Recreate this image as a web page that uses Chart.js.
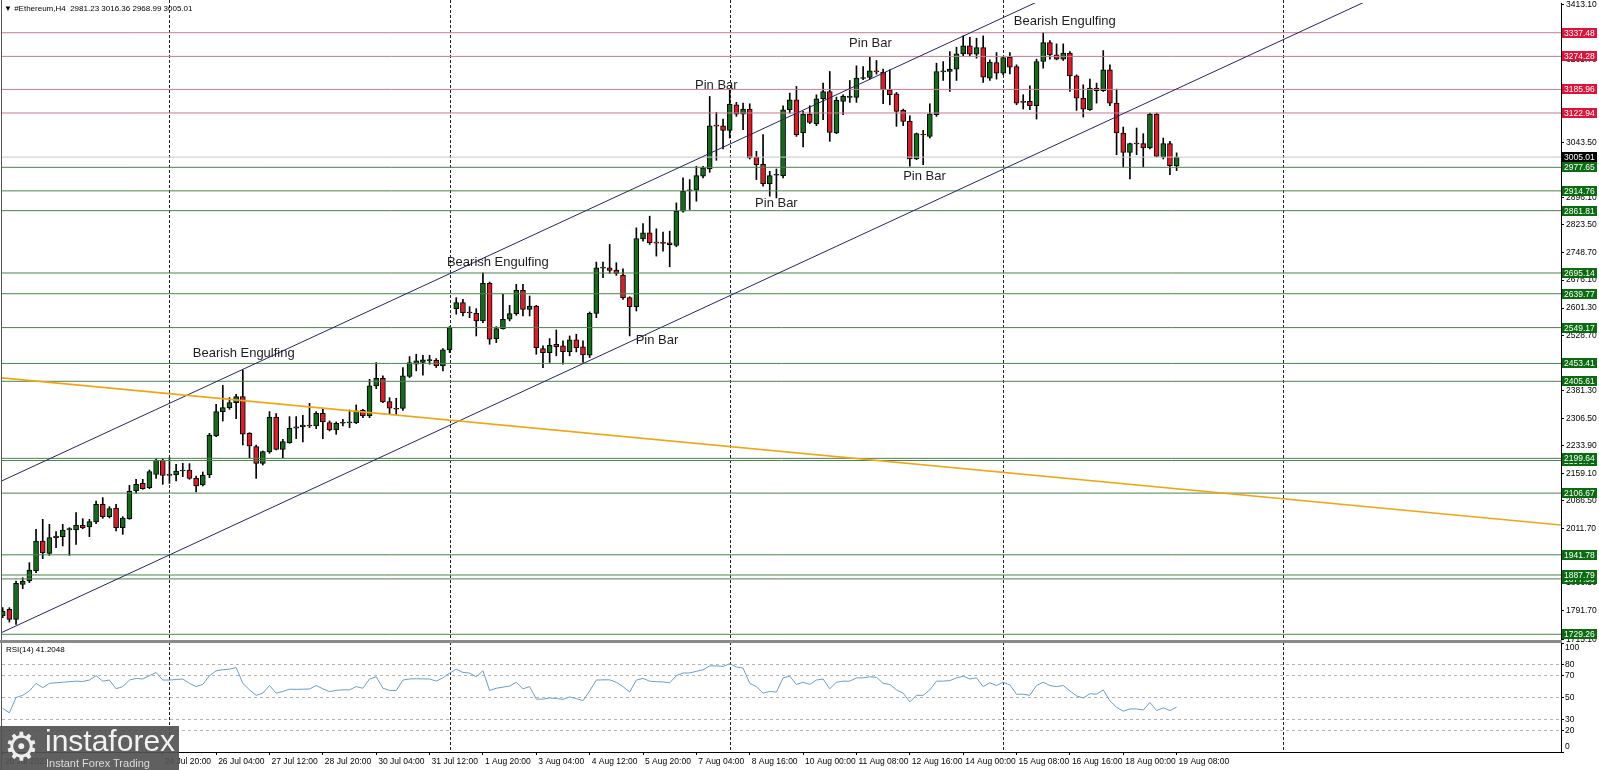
<!DOCTYPE html>
<html><head><meta charset="utf-8">
<script src="https://cdn.jsdelivr.net/npm/chart.js@4.4.1/dist/chart.umd.min.js"></script>
<style>
html,body{margin:0;padding:0;background:#fff;overflow:hidden;}
#wrap{position:relative;width:1599px;height:770px;background:#fff;}
#c1,#c2{position:absolute;left:0;}
#c1{top:0;} #c2{top:642px;}
#hdr{position:absolute;left:4px;top:4px;font:8px 'Liberation Sans',sans-serif;line-height:9px;color:#000;white-space:pre;}
#rsiLbl{position:absolute;left:6px;top:645px;font:8px 'Liberation Sans',sans-serif;line-height:10px;color:#000;white-space:pre;}
#sep{position:absolute;left:0;top:640px;width:1562px;height:3px;background:#8a8a8a;}
#logo{position:absolute;left:0;top:726px;width:179px;height:44px;background:rgba(82,82,82,0.92);overflow:hidden;}
#gear{position:absolute;left:4px;top:1px;font:39px 'DejaVu Sans',sans-serif;line-height:40px;color:#efefef;}
#brand{position:absolute;left:45px;top:1px;font:30px 'Liberation Sans',sans-serif;line-height:28px;color:#f2f2f2;}
#tag{position:absolute;left:46px;top:31px;font:11px 'Liberation Sans',sans-serif;line-height:12px;color:#dcdcdc;white-space:pre;}
</style></head>
<body>
<div id="wrap">
<canvas id="c1" width="1599" height="642"></canvas>
<canvas id="c2" width="1599" height="128"></canvas>
<div id="sep"></div>
<div id="hdr">▼ #Ethereum,H4  2981.23 3016.36 2968.99 3005.01</div>
<div id="rsiLbl">RSI(14) 41.2048</div>
<div id="logo"><span id="gear">⚙</span><span id="brand">instaforex</span><span id="tag">Instant Forex Trading</span></div>
</div>
<script>
// ---------------- DATA ----------------
const opens = [1778.1,1795.9,1769.2,1862.8,1871.7,1898.4,1978.7,1945.7,1987.6,1990.3,
2008.1,2008.1,2020.6,2016.1,2029.5,2076.7,2043.8,2066.9,2014.3,2038.4,
2112.4,2132.9,2121.3,2157.0,2195.3,2157.0,2155.2,2165.9,2168.6,2146.3,
2128.4,2155.2,2259.5,2324.6,2335.3,2348.6,2364.7,2266.6,2231.0,2186.4,
2216.7,2310.3,2223.8,2241.7,2280.0,2283.6,2288.9,2286.2,2320.1,2295.2,
2275.5,2293.4,2294.3,2295.2,2328.1,2313.0,2393.2,2413.7,2351.3,2333.5,
2333.0,2418.4,2451.3,2455.8,2461.1,2462.0,2446.9,2489.6,2599.8,2615.8,
2590.0,2587.4,2566.9,2667.4,2519.8,2546.5,2571.4,2586.5,2648.8,2598.0,
2606.9,2493.1,2482.4,2504.7,2500.2,2485.1,2516.2,2497.6,2475.3,2587.4,
2708.3,2709.2,2703.0,2689.7,2629.2,2605.2,2786.6,2802.6,2776.8,2776.0,
2776.0,2768.8,2860.4,2914.6,2916.4,2953.8,2973.3,3089.8,3088.9,3076.5,
3145.0,3120.1,3133.4,3005.4,2985.8,2934.2,2956.4,2955.5,3131.6,3158.3,
3069.4,3120.1,3093.4,3161.0,3180.5,3069.4,3153.9,3164.5,3164.5,3215.2,
3217.9,3234.8,3232.1,3185.0,3174.3,3129.9,3100.5,3000.0,3065.8,3060.5,
3118.3,3233.0,3233.9,3240.1,3281.0,3302.4,3280.1,3297.9,3216.1,3257.9,
3229.5,3272.1,3247.2,3153.0,3153.9,3142.3,3260.6,3311.3,3278.4,3266.8,
3282.8,3222.3,3162.8,3131.6,3189.4,3182.3,3238.4,3149.4,3069.4,3017.8,
3041.8,3040.9,3029.4,3120.1,3004.5,3040.9,2981.23];
const highs = [1800.4,1800.4,1871.7,1880.6,1920.7,2009.9,2036.6,2023.2,2003.6,2023.2,
2014.3,2054.4,2038.4,2036.6,2085.7,2094.6,2070.5,2076.7,2043.8,2127.6,
2143.6,2143.6,2168.6,2198.9,2198.9,2201.5,2183.7,2186.4,2185.5,2152.5,
2163.2,2266.6,2344.2,2395.0,2362.0,2370.9,2436.0,2268.4,2235.4,2219.4,
2324.6,2319.2,2250.6,2311.2,2311.2,2314.8,2346.9,2324.6,2330.8,2299.6,
2297.0,2304.1,2329.0,2342.4,2330.8,2411.0,2455.6,2420.0,2362.0,2360.2,
2442.4,2471.8,2478.0,2475.3,2475.3,2466.4,2493.1,2551.8,2629.2,2624.7,
2605.2,2599.8,2695.9,2671.0,2551.8,2638.1,2608.7,2664.8,2664.8,2633.6,
2608.7,2500.2,2519.8,2542.9,2513.6,2526.9,2531.4,2513.6,2590.9,2724.3,
2724.3,2771.5,2722.6,2706.5,2631.8,2815.9,2827.5,2847.1,2813.3,2804.4,
2807.0,2882.6,2949.3,2944.9,2980.5,2980.5,3167.2,3124.5,3106.7,3185.0,
3151.2,3149.4,3147.6,3020.5,3064.9,2967.1,2973.3,3142.3,3176.1,3193.9,
3127.2,3142.3,3171.7,3202.8,3233.9,3165.4,3171.7,3209.9,3249.0,3247.3,
3272.1,3263.3,3240.1,3238.4,3177.9,3133.4,3115.6,3069.4,3076.5,3147.6,
3256.2,3260.6,3287.3,3298.8,3329.1,3325.5,3322.8,3329.1,3265.0,3284.6,
3273.9,3284.6,3251.7,3171.7,3195.7,3266.8,3338.0,3316.6,3307.7,3307.7,
3287.3,3225.0,3198.3,3213.5,3202.8,3289.9,3251.7,3186.8,3085.4,3042.7,
3082.7,3067.6,3122.8,3122.8,3056.0,3047.2,3016.36];
const lows = [1773.6,1762.0,1755.8,1851.2,1867.2,1894.0,1931.4,1940.3,1960.8,1965.3,
1940.3,1969.8,2011.7,1990.3,2025.0,2039.3,2040.2,2005.4,1996.5,2036.6,
2106.2,2116.9,2118.6,2146.3,2130.2,2132.9,2139.1,2150.7,2143.6,2109.7,
2125.8,2148.1,2257.7,2299.6,2330.8,2305.9,2235.4,2201.5,2146.3,2181.9,
2213.1,2222.1,2201.5,2239.9,2252.4,2243.4,2281.8,2279.1,2252.4,2272.9,
2264.0,2286.2,2281.8,2292.5,2308.5,2308.5,2386.1,2348.6,2317.4,2317.4,
2328.0,2415.7,2433.5,2422.0,2451.3,2442.4,2433.5,2482.4,2585.0,2580.3,
2575.8,2526.9,2562.5,2504.7,2509.1,2544.7,2566.9,2582.0,2580.3,2580.3,
2478.0,2442.4,2455.8,2473.6,2451.3,2473.6,2484.2,2455.8,2469.1,2575.8,
2682.6,2694.1,2688.8,2624.7,2526.9,2593.6,2780.4,2771.5,2740.3,2753.7,
2711.9,2765.3,2857.7,2864.9,2887.1,2949.3,2964.4,2996.5,3026.7,3056.0,
3113.9,3078.3,3000.0,2944.9,2927.1,2900.4,2896.0,2949.3,3122.7,3060.5,
3032.0,3094.3,3089.0,3104.9,3047.2,3067.6,3118.3,3151.2,3151.2,3211.7,
3213.5,3226.8,3147.6,3145.0,3087.2,3089.0,2980.5,2998.2,2984.9,3056.0,
3113.8,3209.9,3180.5,3209.9,3275.7,3275.7,3269.5,3204.6,3209.9,3213.5,
3225.0,3227.7,3145.0,3133.4,3131.6,3106.7,3242.8,3266.8,3265.0,3263.3,
3180.5,3129.9,3112.1,3129.9,3149.4,3180.5,3142.3,3011.6,2978.7,2946.7,
3011.6,2978.7,3026.7,3005.4,3000.0,2958.2,2968.99];
const closes = [1791.5,1769.2,1865.5,1871.7,1901.1,1978.7,1947.5,1987.6,1992.0,2008.1,
2011.7,2020.6,2013.4,2030.4,2076.7,2043.8,2065.1,2014.3,2040.2,2112.4,
2130.2,2118.6,2164.1,2195.3,2154.3,2154.3,2165.9,2168.6,2146.3,2125.8,
2155.2,2261.3,2324.6,2335.3,2348.6,2364.7,2264.0,2232.7,2186.4,2217.6,
2310.3,2223.8,2244.3,2280.0,2283.6,2288.9,2286.2,2320.1,2296.9,2275.5,
2293.4,2295.2,2296.1,2326.4,2313.0,2393.2,2413.7,2350.4,2333.5,2330.8,
2420.2,2455.8,2460.2,2462.9,2462.9,2446.9,2489.6,2549.1,2615.8,2589.2,
2588.3,2566.9,2667.4,2518.0,2546.5,2571.4,2586.5,2648.8,2598.0,2606.9,
2495.8,2482.4,2502.0,2498.4,2485.1,2516.2,2495.8,2476.2,2587.4,2709.2,
2710.1,2702.1,2694.1,2629.2,2605.2,2787.5,2802.6,2776.0,2775.0,2774.2,
2770.6,2860.4,2913.8,2916.4,2955.5,2976.0,3088.9,3088.0,3076.5,3146.8,
3120.1,3133.4,3002.7,2984.9,2934.2,2955.5,2958.2,3131.6,3158.3,3064.9,
3120.1,3097.8,3161.0,3180.5,3071.2,3156.5,3167.2,3166.3,3216.1,3217.0,
3235.7,3233.0,3185.0,3171.7,3127.2,3100.5,3000.0,3067.6,3064.0,3121.0,
3233.9,3234.8,3240.1,3281.0,3302.4,3280.1,3297.9,3218.8,3258.8,3229.5,
3271.2,3245.5,3149.4,3151.2,3142.3,3260.6,3311.3,3278.4,3266.8,3282.8,
3222.3,3162.8,3133.4,3189.4,3182.3,3238.4,3149.4,3069.4,3017.8,3040.9,
3040.0,3029.4,3120.1,3007.1,3040.9,2982.2,3005.01];
const rsi = [40,36,50,52,56,63,59,63,63.5,64,
64.5,65,64.7,66,70,65,66,58,60,66,
67.5,67,70,73,66,66,66.5,67,63,60,
62,70,74.5,75.5,76,77.5,63,57,52,54,
61,54,55.5,57.6,57.5,57.6,57.8,61,58,55.4,
56.6,57,57,60,58.5,67,69,58.5,56.5,56.4,
66,67,67.2,67.1,67,65,68,72.4,76,73,
72.4,69,74.5,56.4,58.5,59.5,60.5,64,58,60,
48.5,48.5,49.6,49,48.3,50.5,49,47.1,56,66,
66.2,66.2,64,60,55,66,67.5,65,64.5,64.3,
63.5,70,72.5,72.5,74,75.4,79,79,78.5,81,
78,77,63,60,54,55.5,55,68,69.5,62,
64,62,66,67,58,64,65,65,68,68,
69,68.5,63,62,57,54,46,52,52,57,
65,65,65.5,68,69.5,67,68,60,63.5,61,
64,61.5,53,53,52,61,64,61,60,61,
56,51.5,49.5,53.5,53,57,47,41,37.5,39.5,
39.5,38.5,45.5,38,40.5,38,41.2];
const xTickIdx = [0,24,32,40,48,56,64,72,80,88,96,104,112,120,128,136,144,152,160,168,176];
const xTickLabels = ['20 Jul 2021','24 Jul 20:00','26 Jul 04:00','27 Jul 12:00','28 Jul 20:00','30 Jul 04:00','31 Jul 12:00','1 Aug 20:00','3 Aug 04:00','4 Aug 12:00','5 Aug 20:00','7 Aug 04:00','8 Aug 16:00','10 Aug 00:00','11 Aug 08:00','12 Aug 16:00','14 Aug 00:00','15 Aug 08:00','16 Aug 16:00','18 Aug 00:00','19 Aug 08:00'];
const priceTicks = [3413.10,3339.40,3265.70,3191.60,3117.60,3043.50,2970.90,2896.10,2823.50,2748.70,2676.10,2601.30,2528.70,2455.00,2381.30,2306.50,2233.90,2159.10,2086.50,2011.70,1938.40,1866.50,1791.70,1715.10];
const rsiTicks = [0,20,30,50,70,80,100];
const rsiLevels = [20,30,50,70,80];
const resistanceLevels = [3337.48,3274.28,3185.96,3122.94];
const supportLevels = [2977.65,2914.76,2861.81,2695.14,2639.77,2549.17,2453.41,2405.61,2199.64,2193.73,2106.67,1941.78,1887.79,1877.33,1729.26];
const lastPrice = 3005.01;
const weekSeparators = [25,67,109,150,192];
const channelUpperIdx = [-0.4,160], channelUpperPrice = [2137.2,3460.5];
const channelLowerIdx = [-0.4,215], channelLowerPrice = [1731.9,3509.0];
const orangeIdx = [-0.4,233.6], orangePrice = [2415.2,2021.4];
const annoTexts = ['Bearish Engulfing','Bearish Engulfing','Pin Bar','Pin Bar','Pin Bar','Pin Bar','Pin Bar','Bearish Engulfing'];
const annoIdx = [28.5,66.6,94.9,103.8,112.8,126.9,135.0,151.6];
const annoPrice = [2481.3,2722.7,2514.2,3197.8,2882.3,3310.1,2952.6,3368.9];

// ---------------- CHARTS ----------------
const X_MIN = -0.105, X_MAX = 233.63;
const FONT = "'Liberation Sans', Arial, sans-serif";
Chart.defaults.font.family = FONT;
Chart.defaults.font.size = 8;
Chart.defaults.color = '#000';

const idx = closes.map((_, i) => i);
const candleFill = idx.map(i => closes[i] >= opens[i] ? '#17691c' : '#d3202a');

function seg(xs, ys, color, width, order){
  return {type:'line', data: xs.map((x,k)=>({x:x, y:ys[k]})), borderColor:color, borderWidth:width,
          pointRadius:0, tension:0, fill:false, order:order};
}
const datasets = [
  {type:'bar', data: idx.map(i=>({x:i, y:[lows[i], highs[i]]})), backgroundColor:'#000', borderWidth:0,
   barThickness:1, grouped:false, order:10},
  {type:'bar', data: idx.map(i=>({x:i, y:[opens[i], closes[i]]})), backgroundColor:candleFill, borderColor:'#000',
   borderWidth:1, borderSkipped:false, barThickness:5, minBarLength:1, grouped:false, order:9}
];
resistanceLevels.forEach(v => datasets.push(seg([X_MIN,X_MAX],[v,v],'#c47a95',1,4)));
supportLevels.forEach(v => datasets.push(seg([X_MIN,X_MAX],[v,v],'#4a834a',1,4)));
datasets.push(seg([X_MIN,X_MAX],[lastPrice,lastPrice],'#c8c8c8',1,5));
datasets.push(seg(channelUpperIdx, channelUpperPrice, '#25255e', 1, 2));
datasets.push(seg(channelLowerIdx, channelLowerPrice, '#25255e', 1, 2));
datasets.push(seg(orangeIdx, orangePrice, '#f0a514', 1.6, 1));

function drawSeparators(chart){
  const {ctx, chartArea:a, scales:{x}} = chart;
  ctx.save();
  ctx.strokeStyle = '#222'; ctx.lineWidth = 1; ctx.setLineDash([3,2]);
  weekSeparators.forEach(s => {
    const px = Math.round(x.getPixelForValue(s)) + 0.5;
    ctx.beginPath(); ctx.moveTo(px, 0); ctx.lineTo(px, a.bottom); ctx.stroke();
  });
  ctx.restore();
}
function drawLeftBorder(chart){
  const {ctx} = chart;
  ctx.save(); ctx.fillStyle = '#555'; ctx.fillRect(1, 0, 1, chart.height); ctx.restore();
}

const pricePlugin = {
  id: 'priceDeco',
  beforeDatasetsDraw(chart){ drawSeparators(chart); },
  afterDatasetsDraw(chart){
    const {ctx, scales:{x, y}} = chart;
    ctx.save();
    ctx.font = "13px " + FONT; ctx.fillStyle = '#1e1e1e';
    ctx.textBaseline = 'middle'; ctx.textAlign = 'left';
    annoTexts.forEach((t,k) => ctx.fillText(t, x.getPixelForValue(annoIdx[k]), y.getPixelForValue(annoPrice[k])));
    ctx.restore();
  },
  afterDraw(chart){
    const {ctx, chartArea:a, scales:{y}} = chart;
    const boxes = [].concat(resistanceLevels.map(v=>[v,'#dc143c']), supportLevels.map(v=>[v,'#0b6b10']), [[lastPrice,'#000']])
      .sort((p,q)=>p[0]-q[0]);
    ctx.save();
    ctx.font = "8.5px " + FONT; ctx.textBaseline = 'middle'; ctx.textAlign = 'left';
    boxes.forEach(([v,c]) => {
      const py = y.getPixelForValue(v);
      const top = Math.round(py - 5);
      ctx.fillStyle = c; ctx.fillRect(a.right + 1, top, 35, 10);
      ctx.fillStyle = '#fff'; ctx.fillText(v.toFixed(2), a.right + 3, top + 5.5);
    });
    ctx.restore();
    drawLeftBorder(chart);
  }
};

new Chart(document.getElementById('c1'), {
  type: 'bar',
  data: { datasets: datasets },
  options: {
    responsive:false, animation:false, devicePixelRatio:1, events:[],
    layout:{ padding:{left:2, top:3, right:0, bottom:2} },
    plugins:{ legend:{display:false}, tooltip:{enabled:false} },
    scales:{
      x:{ type:'linear', min:X_MIN, max:X_MAX, display:false, offset:false },
      y:{ type:'linear', position:'right', min:1714, max:3417,
          afterBuildTicks: s => { s.ticks = priceTicks.map(v=>({value:v})); },
          afterFit: s => { s.width = 38; s.paddingTop = 0; s.paddingBottom = 0; },
          ticks:{ autoSkip:false, padding:2, color:'#000', font:{size:8.5}, callback: v => Number(v).toFixed(2) },
          grid:{ drawOnChartArea:false, drawTicks:true, tickLength:3, color:'#000', tickColor:'#000' },
          border:{ display:true, color:'#000', width:1 } }
    }
  },
  plugins:[pricePlugin]
});

const rsiPlugin = {
  id: 'rsiDeco',
  beforeDatasetsDraw(chart){ drawSeparators(chart); },
  afterDraw(chart){
    const {ctx, chartArea:a} = chart;
    ctx.save();
    ctx.font = "8.5px " + FONT; ctx.fillStyle = '#000'; ctx.textBaseline = 'middle'; ctx.textAlign = 'left';
    ctx.fillText('100', a.right + 4, a.top + 5);
    ctx.fillText('0', a.right + 4, a.bottom - 5);
    ctx.restore();
    drawLeftBorder(chart);
  }
};

new Chart(document.getElementById('c2'), {
  type: 'line',
  data: { datasets: [{ data: rsi.map((v,i)=>({x:i, y:v})), borderColor:'#6a9dc8', borderWidth:1, pointRadius:0, tension:0, fill:false }] },
  options: {
    responsive:false, animation:false, devicePixelRatio:1, events:[],
    layout:{ padding:{left:2, top:1, right:0, bottom:0} },
    plugins:{ legend:{display:false}, tooltip:{enabled:false} },
    scales:{
      x:{ type:'linear', min:X_MIN, max:X_MAX, position:'bottom', offset:false,
          afterBuildTicks: s => { s.ticks = xTickIdx.map(v=>({value:v})); },
          afterFit: s => { s.height = 18; s.paddingLeft = 0; s.paddingRight = 0; },
          ticks:{ autoSkip:false, maxRotation:0, minRotation:0, align:'start', labelOffset:2, padding:2, color:'#000', font:{size:8.5},
                  callback: v => { const k = xTickIdx.indexOf(v); return k >= 0 ? xTickLabels[k] : ''; } },
          grid:{ drawOnChartArea:false, drawTicks:true, tickLength:3, color:'#000', tickColor:'#000' },
          border:{ display:true, color:'#000', width:1 } },
      y:{ type:'linear', position:'right', min:0, max:100,
          afterBuildTicks: s => { s.ticks = rsiTicks.map(v=>({value:v})); },
          afterFit: s => { s.width = 38; s.paddingTop = 0; s.paddingBottom = 0; },
          ticks:{ autoSkip:false, padding:1, color:'#000', font:{size:8.5},
                  callback: v => (v === 0 || v === 100) ? '' : String(v) },
          grid:{ drawOnChartArea:true, drawTicks:true, tickLength:3,
                 color: c => rsiLevels.includes(c.tick && c.tick.value) ? '#b4b4b4' : 'rgba(0,0,0,0)',
                 tickColor:'#000' },
          border:{ display:true, color:'#000', width:1, dash:[3,3] } }
    }
  },
  plugins:[rsiPlugin]
});
</script>
</body></html>
